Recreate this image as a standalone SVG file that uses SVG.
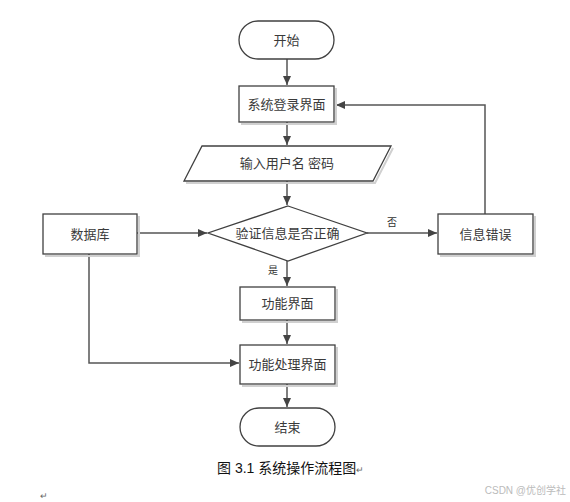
<svg xmlns="http://www.w3.org/2000/svg" width="570" height="502" viewBox="0 0 570 502">
<style>
.shape{fill:#fff;stroke:#404040;stroke-width:1.3}
.shadow{fill:none;stroke:#d0d0d0;stroke-width:2}
.t{font-family:"Liberation Serif","Noto Sans CJK SC",serif;font-size:13px;fill:#3a3a3a;text-anchor:middle;dominant-baseline:central}
.lbl{font-family:"Liberation Serif","Noto Sans CJK SC",serif;font-size:10px;fill:#333;text-anchor:middle}
.c{fill:none;stroke:#555;stroke-width:1.5}
.cap{font-family:"Liberation Sans","Noto Sans CJK SC",sans-serif;font-size:14px;fill:#111}
</style>
<defs>
<marker id="ah" markerWidth="10" markerHeight="10" refX="9" refY="5" orient="auto" markerUnits="userSpaceOnUse">
<path d="M0,1 L9,5 L0,9 Z" fill="#444"/>
</marker>
</defs>
<rect width="570" height="502" fill="#fff"/>
<g id="connectors">
<path class="c" d="M287,59 V85" marker-end="url(#ah)"/>
<path class="c" d="M287,122 V145" marker-end="url(#ah)"/>
<path class="c" d="M287,181 V205" marker-end="url(#ah)"/>
<path class="c" d="M137,233 H207" marker-end="url(#ah)"/>
<path class="c" d="M367,233 H437" marker-end="url(#ah)"/>
<path class="c" d="M485,214 V105 H336" marker-end="url(#ah)"/>
<path class="c" d="M287,261 V286" marker-end="url(#ah)"/>
<path class="c" d="M287,320 V344" marker-end="url(#ah)"/>
<path class="c" d="M89,254 V363 H239" marker-end="url(#ah)"/>
<path class="c" d="M287,384 V407" marker-end="url(#ah)"/>
<text class="lbl" x="392" y="226">否</text>
<text class="lbl" x="273" y="274">是</text>
</g>
<g id="start">
<rect class="shape" x="239" y="21" width="95" height="38" rx="19"/>
<text class="t" x="286.5" y="40">开始</text>
</g>
<g id="login">
<path class="shadow" d="M336,88 V124 H241"/>
<rect class="shape" x="239" y="86" width="95" height="36"/>
<text class="t" x="286.5" y="104">系统登录界面</text>
</g>
<g id="input">
<path class="shadow" d="M393,148 L375,183 H186"/>
<polygon class="shape" points="202,146 391,146 373,181 184,181"/>
<text class="t" x="287" y="163.5">输入用户名 密码</text>
</g>
<g id="verify">
<polygon class="shape" points="288,206 367,233 288,261 208,233"/>
<text class="t" x="287.5" y="233">验证信息是否正确</text>
</g>
<g id="database">
<path class="shadow" d="M139,216 V256 H45"/>
<rect class="shape" x="43" y="214" width="94" height="40"/>
<text class="t" x="90" y="234">数据库</text>
</g>
<g id="error">
<path class="shadow" d="M535,216 V256 H440"/>
<rect class="shape" x="438" y="214" width="95" height="40"/>
<text class="t" x="485.5" y="234">信息错误</text>
</g>
<g id="func">
<path class="shadow" d="M337,289 V322 H242"/>
<rect class="shape" x="240" y="287" width="95" height="33"/>
<text class="t" x="287.5" y="303.5">功能界面</text>
</g>
<g id="process">
<path class="shadow" d="M337,347 V386 H242"/>
<rect class="shape" x="240" y="345" width="95" height="39"/>
<text class="t" x="287.5" y="364.5">功能处理界面</text>
</g>
<g id="end">
<rect class="shape" x="240" y="408" width="95" height="38" rx="19"/>
<text class="t" x="287.5" y="427">结束</text>
</g>
<text class="cap" x="217" y="473">图 3.1 系统操作流程图</text>
<text x="356" y="473" font-family="Liberation Sans,sans-serif" font-size="9" fill="#666">↵</text>
<text x="40" y="499" font-family="Liberation Sans,sans-serif" font-size="9" fill="#666">↵</text>
<text x="566" y="494" font-family="Liberation Sans,'Noto Sans CJK SC',sans-serif" font-size="10" fill="#bbb" text-anchor="end">CSDN @优创学社</text>
</svg>
